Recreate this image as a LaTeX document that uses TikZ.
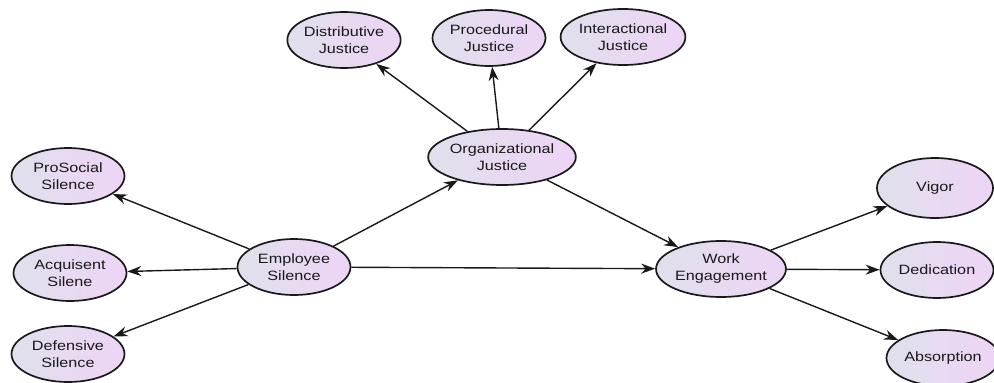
\documentclass[tikz,border=0pt]{standalone}
\usepackage{fontspec}
\setmainfont[FakeStretch=1.2]{Liberation Sans}
\usetikzlibrary{shapes.geometric,arrows.meta}
\definecolor{ellL}{RGB}{224,224,236}
\definecolor{ellR}{RGB}{238,212,246}
\definecolor{edge}{RGB}{25,25,25}
\begin{document}
\begin{tikzpicture}[x=1pt,y=-1pt,
  var/.style={ellipse, draw=edge, line width=1.7pt, left color=ellL, right color=ellR,
    minimum width=113pt, minimum height=56pt, inner sep=0pt, align=center,
    font=\fontsize{13.5}{17}\selectfont, text=black!90},
  conn/.style={draw=edge, line width=1.4pt, -{Stealth[length=14pt,width=10pt]}}]
\useasboundingbox (0,0) rectangle (994,383);
\clip (0,0) rectangle (994,383);
\node[var] (dj) at (344,40) {Distributive\\Justice};
\node[var] (pj) at (489,38) {Procedural\\Justice};
\node[var] (ij) at (623,37) {Interactional\\Justice};
\node[var] (oj) at (502,157) {Organizational\\Justice};
\node[var] (ps) at (68,176) {ProSocial\\Silence};
\node[var] (as) at (70,273) {Acquisent\\Silene};
\node[var] (ds) at (68,354) {Defensive\\Silence};
\node[var] (es) at (294,267) {Employee\\Silence};
\node[var] (we) at (721,269) {Work\\Engagement};
\node[var, minimum width=116pt, minimum height=60pt] (vi) at (935,188) {Vigor};
\node[var] (de) at (937,270) {Dedication};
\node[var] (ab) at (943,358) {Absorption};
\draw[conn] (oj) -- (dj);
\draw[conn] (oj) -- (pj);
\draw[conn] (oj) -- (ij);
\draw[conn] (es) -- (ps);
\draw[conn] (es) -- (as);
\draw[conn] (es) -- (ds);
\draw[conn] (es) -- (oj);
\draw[conn] (es) -- (we);
\draw[conn] (oj) -- (we);
\draw[conn] (we) -- (vi);
\draw[conn] (we) -- (de);
\draw[conn] (we) -- (ab);
\end{tikzpicture}
\end{document}
